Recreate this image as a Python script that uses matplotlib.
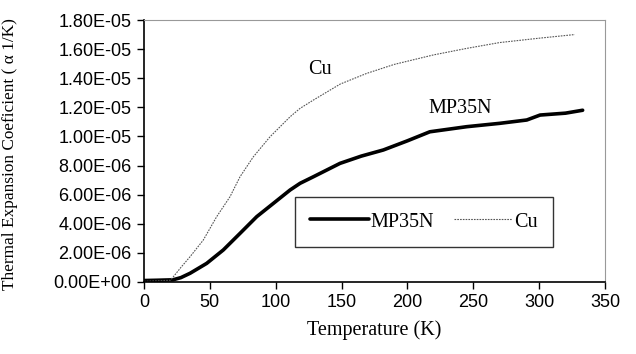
import numpy as np
import matplotlib
matplotlib.use("Agg")
from matplotlib import pyplot as plt
from matplotlib.ticker import FuncFormatter

# valeurs (T en K, alpha en 1/K)
cu_T = [0, 10, 20, 22.3, 28, 35, 45, 55.2, 65.3, 72.9, 83, 95.7, 110.9, 118.5, 128.6,
        149, 169, 190, 219.7, 245, 270, 300, 327]
cu_a = [0.05e-6, 0.08e-6, 0.12e-6, 0.36e-6, 1.0e-6, 1.74e-6, 2.88e-6, 4.49e-6, 5.86e-6,
        7.23e-6, 8.6e-6, 9.98e-6, 11.35e-6, 11.93e-6, 12.5e-6, 13.6e-6, 14.33e-6,
        14.95e-6, 15.6e-6, 16.05e-6, 16.45e-6, 16.75e-6, 17.0e-6]

mp_T = [0, 10, 22, 28, 35, 47.6, 60.2, 72.9, 85.6, 98.2, 110.9, 118.5, 128.6, 148.8,
        165, 181.7, 200, 217, 245, 270, 290.6, 300.7, 320, 333]
mp_a = [0.1e-6, 0.12e-6, 0.15e-6, 0.3e-6, 0.6e-6, 1.28e-6, 2.2e-6, 3.34e-6, 4.49e-6,
        5.4e-6, 6.32e-6, 6.78e-6, 7.23e-6, 8.15e-6, 8.65e-6, 9.07e-6, 9.7e-6, 10.32e-6,
        10.67e-6, 10.9e-6, 11.13e-6, 11.47e-6, 11.6e-6, 11.8e-6]

x_ticks = [0, 50, 100, 150, 200, 250, 300, 350]
y_ticks = np.arange(0, 1.81e-5, 2e-6)

plt.rcParams['font.family'] = ['Liberation Serif', 'DejaVu Serif']
tick_font = ['Liberation Sans', 'DejaVu Sans']

fig = plt.figure(figsize=(6.36, 3.54), dpi=100)
ax = fig.add_axes([0.2264, 0.2034, 0.9513 - 0.2264, 0.9435 - 0.2034])

ax.plot(mp_T, mp_a, color="black", lw=2.6, label="MP35N", solid_capstyle="round")
ax.plot(cu_T, cu_a, color="#555555", lw=0.8, ls=(0, (1.5, 1)), label="Cu")

ax.set_xlim(0, 350)
ax.set_ylim(0, 1.8e-5)
ax.set_xticks(x_ticks)
ax.set_yticks(y_ticks)
ax.yaxis.set_major_formatter(FuncFormatter(lambda v, p: f"{v:.2E}"))
ax.tick_params(direction="out", length=5, width=1, labelsize=13, pad=4)
for lab in ax.get_xticklabels() + ax.get_yticklabels():
    lab.set_family(tick_font)

for side in ["top", "right"]:
    ax.spines[side].set_color("#999999")
    ax.spines[side].set_linewidth(0.8)
    ax.spines[side].set_linestyle((0, (2, 1)))
for side in ["left", "bottom"]:
    ax.spines[side].set_linewidth(1.2)

ax.set_xlabel("Temperature (K)", fontsize=14.5, labelpad=6)
ax.set_ylabel("Thermal Expansion Coeficient ( \u03b1 1/K)", fontsize=12.4)
ax.yaxis.set_label_coords(-0.273, 0.49)

ax.text(124.5, 1.46e-5, "Cu", fontsize=14.5, va="center")
ax.text(216, 1.19e-5, "MP35N", fontsize=14.5, va="center")

leg = ax.legend(loc="center", bbox_to_anchor=(0.306, 0.134, 0.603, 0.19), mode="expand",
                ncol=2, fontsize=14.5, frameon=True, fancybox=False, handlelength=2.9,
                handletextpad=0.1, borderpad=0.75, columnspacing=2.0)
leg.get_frame().set_edgecolor("black")
leg.get_frame().set_linewidth(1.0)

fig.savefig("out.png", dpi=100)
